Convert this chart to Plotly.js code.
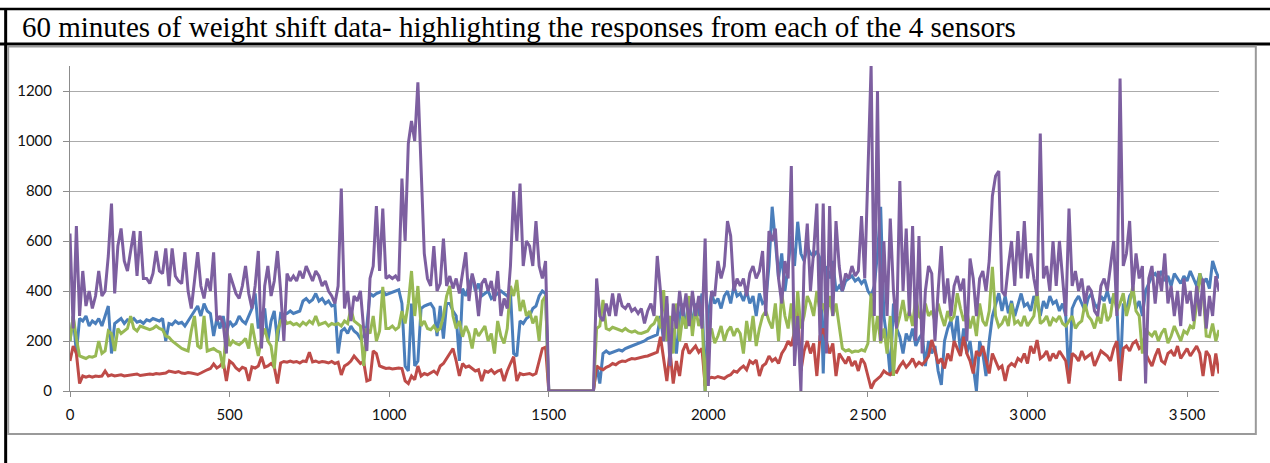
<!DOCTYPE html>
<html>
<head>
<meta charset="utf-8">
<script src="https://cdn.plot.ly/plotly-3.0.1.min.js"></script>
<style>
html,body{margin:0;padding:0;background:#fff;}
#chart{width:1270px;height:463px;}
</style>
</head>
<body>
<div id="chart"></div>
<script>
// Sampled every SAMPLE_STEP seconds, 0..3600 s
const SAMPLE_STEP = 10;
const chartTitle = "60 minutes of weight shift data- highlighting the responses from each of the 4 sensors";
const xTickVals = [0, 500, 1000, 1500, 2000, 2500, 3000, 3500];
const xTickText = ["0", "500", "1000", "1500", "2000", "2\u2009500", "3\u2009000", "3\u2009500"];
const yTickVals = [0, 200, 400, 600, 800, 1000, 1200];

const sensorBlue = [
  200,300,150,290,280,300,260,280,270,290,
  260,300,340,150,270,280,290,270,285,280,
  290,275,280,270,285,280,290,285,280,290,
  200,270,265,280,270,275,260,280,300,320,
  340,300,350,320,310,220,290,250,300,230,
  280,260,270,300,280,270,300,330,390,250,
  300,330,200,280,320,200,310,305,310,320,
  310,315,320,360,370,355,365,390,360,370,
  350,360,340,345,150,240,250,230,260,240,
  230,210,220,260,390,380,390,395,400,385,
  390,395,400,405,350,100,80,350,100,120,
  330,340,345,350,330,220,340,210,350,350,
  320,300,120,410,380,420,460,400,430,380,
  390,400,370,380,390,400,390,380,395,150,
  140,280,270,290,300,330,340,380,400,390,
  0,0,0,0,0,0,0,0,0,0,
  0,0,0,0,0,100,30,150,160,150,
  155,160,165,160,170,175,180,185,190,195,
  200,210,215,220,225,300,200,350,150,250,
  150,300,350,250,330,280,350,300,390,0,
  310,390,350,370,330,380,400,350,420,380,
  390,360,400,350,380,300,390,350,360,500,
  737,600,450,550,400,500,620,500,677,550,
  520,577,550,540,560,530,70,500,450,520,
  400,420,400,440,450,460,440,450,430,445,
  400,380,420,550,737,300,200,60,350,250,
  217,150,230,200,250,180,210,230,100,200,
  150,180,80,24,200,250,284,200,300,150,
  250,150,200,100,0,200,150,60,200,300,
  350,391,320,380,311,360,300,350,390,340,
  350,320,380,351,300,360,330,380,350,360,
  320,350,300,40,330,360,380,350,320,370,
  390,350,330,380,360,400,350,380,340,40,
  350,320,380,400,330,360,300,400,430,460,
  470,450,480,440,460,420,470,450,430,460,
  440,480,450,420,470,430,450,410,520,480,
  450
];

const sensorRed = [
  120,180,150,30,60,55,60,55,60,58,
  60,80,60,65,60,62,65,60,62,66,
  65,68,62,65,66,68,66,70,68,70,
  72,80,76,74,78,72,70,74,72,68,
  66,72,80,85,90,108,92,100,118,40,
  120,110,92,82,95,90,40,96,92,100,
  137,95,100,110,96,30,112,118,115,120,
  115,118,112,120,118,155,116,120,114,118,
  116,112,118,110,115,64,100,108,120,140,
  125,110,118,40,45,160,150,100,95,90,
  92,88,90,92,90,40,30,60,45,100,
  60,70,65,72,80,68,100,110,130,150,
  170,120,60,110,95,100,90,80,85,40,
  80,75,85,70,80,84,40,80,110,137,
  40,70,65,68,70,64,70,120,170,175,
  0,0,0,0,0,0,0,0,0,0,
  0,0,0,0,0,100,90,85,95,100,
  110,105,115,120,118,125,130,128,132,135,
  138,140,145,150,155,217,130,40,160,30,
  120,60,160,190,150,165,180,155,170,20,
  50,55,52,58,55,50,60,65,80,75,
  90,100,85,120,110,124,60,100,110,140,
  120,130,110,150,170,200,180,240,324,80,
  160,200,150,190,60,220,250,200,150,190,
  60,150,130,110,137,100,120,80,130,110,
  60,10,37,50,60,80,70,65,80,75,
  100,117,95,110,130,100,115,105,120,140,
  204,160,110,130,90,150,120,200,170,140,
  217,150,120,70,160,140,180,130,70,150,
  120,90,100,40,97,110,100,130,120,150,
  110,180,150,204,130,140,160,120,150,130,
  160,140,120,30,150,140,120,160,130,140,
  150,100,130,160,150,140,120,170,200,40,
  170,180,160,190,200,170,180,150,124,100,
  140,170,120,110,150,160,140,180,130,150,
  170,140,160,180,150,60,160,140,60,150,
  70
];

const sensorGreen = [
  200,300,210,140,135,130,138,135,140,200,
  150,160,240,230,160,250,230,240,250,300,
  250,240,260,255,250,245,250,260,250,245,
  220,215,200,190,180,170,165,160,240,300,
  180,170,300,160,165,170,160,155,90,250,
  180,200,190,185,195,210,170,270,200,140,
  210,250,200,180,90,240,280,290,270,275,
  265,270,260,275,265,280,270,300,265,270,
  275,260,270,265,270,260,280,270,330,280,
  270,260,100,250,230,300,200,240,417,250,
  250,260,245,255,320,270,350,480,300,420,
  260,280,250,245,260,240,250,300,380,420,
  300,250,280,217,260,230,170,250,220,240,
  260,200,230,150,280,220,190,250,420,380,
  444,320,364,300,320,270,300,200,360,380,
  0,0,0,0,0,0,0,0,0,0,
  0,0,0,0,0,250,260,364,250,244,
  255,250,245,240,250,240,235,240,232,230,
  235,240,260,270,300,250,404,200,300,150,
  350,200,300,250,380,220,330,260,300,0,
  231,250,191,220,260,200,240,257,220,250,
  230,150,280,200,300,180,250,300,320,280,
  250,350,200,391,300,250,350,200,400,250,
  300,380,350,300,400,320,350,290,380,300,
  350,250,170,160,165,155,160,158,165,160,
  190,391,200,300,191,250,150,300,60,250,
  300,364,280,320,260,380,300,284,350,300,
  320,280,350,300,260,320,280,300,391,330,
  280,320,250,300,220,350,280,260,320,497,
  300,257,270,300,260,350,270,280,260,300,
  260,280,300,400,270,280,300,260,290,280,
  300,270,260,280,300,250,270,280,350,300,
  284,250,300,270,350,280,300,391,320,350,
  391,300,350,420,320,300,150,250,231,220,
  240,200,231,250,191,220,260,230,200,240,
  230,260,250,350,471,400,220,217,270,200,
  244
];

const sensorPurple = [
  630,250,660,300,480,340,400,330,380,480,
  380,400,540,750,390,580,650,520,480,560,
  640,460,640,450,450,430,470,560,480,470,
  570,420,570,460,440,430,555,400,330,440,
  555,420,370,450,400,555,280,300,270,150,
  470,430,390,370,420,500,390,330,420,560,
  170,420,500,380,440,560,400,200,470,440,
  460,440,480,450,500,470,440,480,460,420,
  440,400,380,350,420,810,330,400,280,380,
  360,400,250,160,450,500,740,480,730,450,
  460,450,460,440,850,600,990,1080,1000,1235,
  900,550,450,420,580,400,430,610,420,460,
  410,450,390,480,555,360,470,420,300,430,
  450,400,440,360,480,300,370,330,500,800,
  600,830,500,600,580,500,680,500,450,520,
  0,0,0,0,0,0,0,0,0,0,
  0,0,0,0,0,450,300,280,350,300,
  390,300,390,340,330,350,320,330,310,330,
  270,320,350,300,540,400,200,380,100,350,
  250,400,300,390,260,400,300,380,250,610,
  20,400,380,520,450,500,680,620,400,450,
  420,450,380,470,500,450,480,560,300,640,
  600,650,450,350,520,450,900,100,300,0,
  500,670,400,560,750,200,750,150,740,300,
  680,500,400,470,450,500,460,480,700,450,
  900,1300,300,1200,200,600,300,690,400,250,
  840,400,650,300,660,200,620,150,400,500,
  470,200,400,580,350,450,300,420,460,400,
  450,200,530,450,300,450,480,400,520,780,
  860,880,400,380,500,600,420,640,450,680,
  450,550,450,380,1030,450,500,400,600,420,
  600,450,300,730,420,480,400,450,350,420,
  400,320,300,420,450,400,500,600,300,1250,
  500,550,680,400,550,450,500,30,450,500,
  350,480,400,550,350,420,300,400,260,450,
  350,400,280,420,300,450,250,380,300,460,
  400
];

// Pixel geometry of the reference plot area
const W = 1270, Hh = 463;
const PL = 70.3, PR = 1218.7, PT = 66, PB = 391;
const px2paperX = p => (p - PL) / (PR - PL);
const px2paperY = p => (PB - p) / (PB - PT);

function series(y, color) {
  return {
    type: 'scatter', mode: 'lines', y: y, x0: 0, dx: SAMPLE_STEP,
    line: {color: color, width: 3}, hoverinfo: 'skip', showlegend: false
  };
}

const data = [
  series(sensorBlue, '#4a7ebb'),
  series(sensorRed, '#be4b48'),
  series(sensorGreen, '#98b954'),
  series(sensorPurple, '#7d5fa0')
];

const tickFont = {family: 'Lato, "Open Sans", sans-serif', size: 15, color: '#111'};

const shapes = [
  // outer black frame lines
  {type:'line', xref:'paper', yref:'paper', x0: px2paperX(0), x1: px2paperX(W), y0: px2paperY(9), y1: px2paperY(9), line:{color:'#000', width:2.5}},
  {type:'line', xref:'paper', yref:'paper', x0: px2paperX(0), x1: px2paperX(W), y0: px2paperY(44), y1: px2paperY(44), line:{color:'#000', width:3}},
  {type:'line', xref:'paper', yref:'paper', x0: px2paperX(6), x1: px2paperX(6), y0: px2paperY(8), y1: px2paperY(Hh), line:{color:'#000', width:3}},
  // grey chart-area border
  {type:'rect', xref:'paper', yref:'paper', x0: px2paperX(8.5), x1: px2paperX(1255.5), y0: px2paperY(46.5), y1: px2paperY(434), line:{color:'#9a9a9a', width:2}, fillcolor:'rgba(0,0,0,0)'}
];

const layout = {
  width: W, height: Hh,
  margin: {l: PL, r: W - PR, t: PT, b: Hh - PB, pad: 0},
  paper_bgcolor: '#fff', plot_bgcolor: '#fff',
  showlegend: false,
  title: {
    text: chartTitle, xref: 'container', yref: 'container',
    x: 22 / W, xanchor: 'left', y: 1 - 27 / Hh, yanchor: 'middle',
    font: {family: '"Liberation Serif", "Times New Roman", serif', size: 29, color: '#000'}
  },
  xaxis: {
    range: [0, 3600], tickvals: xTickVals, ticktext: xTickText,
    showgrid: false, zeroline: false, showline: true, linecolor: '#8c8c8c', linewidth: 1,
    ticks: 'outside', ticklen: 5, tickcolor: '#8c8c8c', tickfont: tickFont,
    ticklabelstandoff: 5, fixedrange: true
  },
  yaxis: {
    range: [0, 1300], tickvals: yTickVals,
    showgrid: true, gridcolor: '#ababab', gridwidth: 1, zeroline: false,
    showline: true, linecolor: '#8c8c8c', linewidth: 1,
    ticks: 'outside', ticklen: 6, tickcolor: '#8c8c8c', tickfont: tickFont,
    ticklabelstandoff: 8, fixedrange: true
  },
  shapes: shapes
};

Plotly.newPlot('chart', data, layout, {staticPlot: true, displayModeBar: false});
</script>
</body>
</html>
